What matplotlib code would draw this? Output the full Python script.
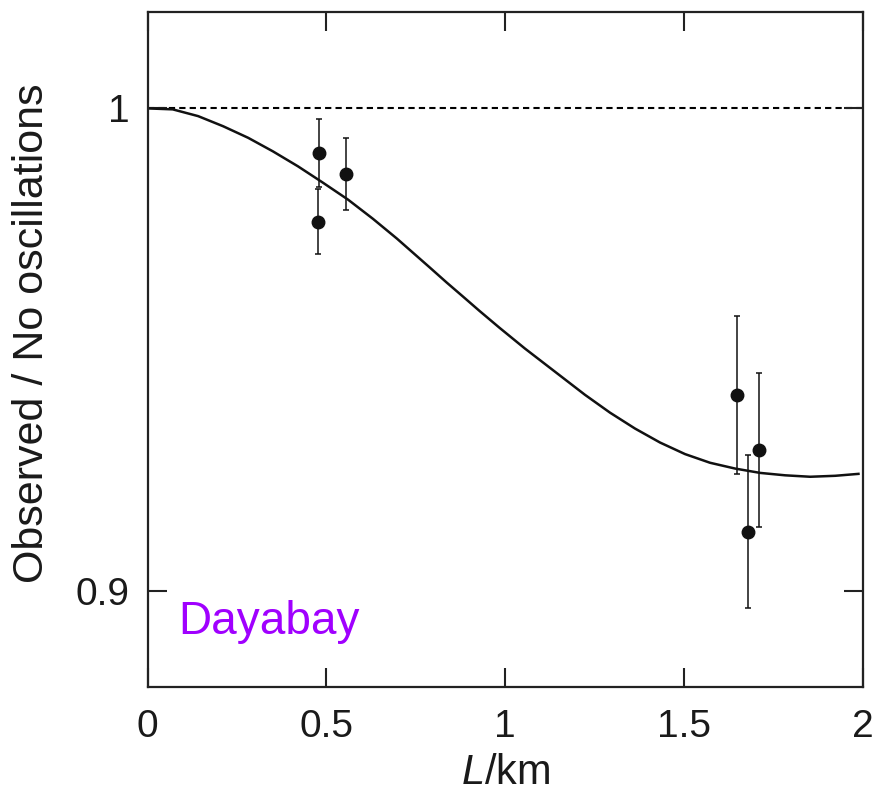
import matplotlib
matplotlib.use("Agg")
import matplotlib.pyplot as plt
from matplotlib.ticker import FixedLocator, FixedFormatter

plt.rcParams["font.family"] = ["Liberation Sans", "DejaVu Sans"]
plt.rcParams["mathtext.fontset"] = "custom"
plt.rcParams["mathtext.it"] = "Liberation Sans:italic"
plt.rcParams["mathtext.rm"] = "Liberation Sans"

# measured ratios at the detector halls
L_data = [0.480, 0.475, 0.555, 1.649, 1.710, 1.680]
ratio_data = [0.9907, 0.9765, 0.9864, 0.9405, 0.9291, 0.9122]
ratio_err = [0.0070, 0.0068, 0.0074, 0.0164, 0.0160, 0.0159]

# best-fit survival curve
L_curve = [0.0, 0.07, 0.141, 0.211, 0.281, 0.350, 0.420, 0.490, 0.560,
           0.630, 0.697, 0.743, 0.789, 0.836, 0.883, 0.928, 0.984, 1.055,
           1.153, 1.223, 1.293, 1.363, 1.433, 1.503, 1.573, 1.643, 1.713,
           1.783, 1.853, 1.923, 1.988]
ratio_curve = [1.0, 0.9998, 0.9984, 0.9963, 0.9939, 0.9911, 0.9880, 0.9846,
               0.9811, 0.9771, 0.9730, 0.9700, 0.9670, 0.9639, 0.9609,
               0.9580, 0.9545, 0.9502, 0.9446, 0.9406, 0.9369, 0.9336,
               0.9307, 0.9283, 0.9265, 0.9253, 0.9244, 0.9239, 0.9236,
               0.9238, 0.9242]

x_ticks = [0, 0.5, 1, 1.5, 2]
x_labels = ["0", "0.5", "1", "1.5", "2"]
y_ticks = [0.9, 1.0]
y_labels = ["0.9", "1"]

fig = plt.figure(figsize=(8.75, 7.93), dpi=100)
ax = fig.add_axes([0.1688, 0.1337, 0.8172, 0.8512])

ax.axhline(1.0, color="black", lw=1.5, dashes=(3, 2), zorder=1)
ax.plot(L_curve, ratio_curve, color="#111111", lw=1.8, zorder=2)
ax.errorbar(L_data, ratio_data, yerr=ratio_err, fmt="o", color="#111111",
            ms=9, elinewidth=1.1, capsize=2.5, capthick=1.1, zorder=3)

ax.text(0.085, 0.891, "Dayabay", color="#A000FF", fontsize=33,
        ha="left", va="baseline")

ax.set_xlim(0, 2)
ax.set_ylim(0.88, 1.02)
ax.xaxis.set_major_locator(FixedLocator(x_ticks))
ax.xaxis.set_major_formatter(FixedFormatter(x_labels))
ax.yaxis.set_major_locator(FixedLocator(y_ticks))
ax.yaxis.set_major_formatter(FixedFormatter(y_labels))
ax.tick_params(direction="in", length=14, width=1.5, labelsize=28,
               top=True, right=True, color="#222222", labelcolor="#1a1a1a")
ax.tick_params(axis="x", pad=16)
ax.tick_params(axis="y", pad=13)
for s in ax.spines.values():
    s.set_linewidth(1.6)
    s.set_color("#222222")

ax.set_xlabel("$L$/km", fontsize=30, color="#1a1a1a")
ax.set_ylabel("Observed / No oscillations", fontsize=31, color="#1a1a1a")
ax.xaxis.set_label_coords(0.5, -0.098)
ax.yaxis.set_label_coords(-0.134, 0.5237)

fig.savefig("out.png", dpi=100)
